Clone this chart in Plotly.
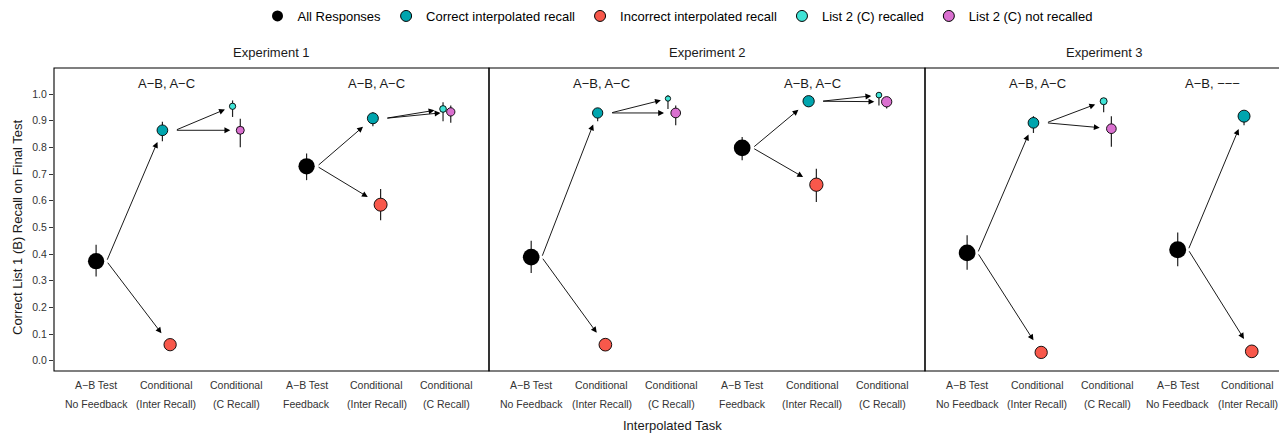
import math
import plotly.graph_objects as go

# ---------------- data ----------------
experiments = ["Experiment 1", "Experiment 2", "Experiment 3"]

series_names = ["All Responses", "Correct interpolated recall", "Incorrect interpolated recall",
                "List 2 (C) recalled", "List 2 (C) not recalled"]
series_colors = ["#000000", "#00A5AE", "#F8584B", "#3FE3D6", "#DA70D0"]

exp1_ticks = [["A−B Test", "No Feedback"], ["Conditional", "(Inter Recall)"], ["Conditional", "(C Recall)"],
              ["A−B Test", "Feedback"], ["Conditional", "(Inter Recall)"], ["Conditional", "(C Recall)"]]
exp2_ticks = [["A−B Test", "No Feedback"], ["Conditional", "(Inter Recall)"], ["Conditional", "(C Recall)"],
              ["A−B Test", "Feedback"], ["Conditional", "(Inter Recall)"], ["Conditional", "(C Recall)"]]
exp3_ticks = [["A−B Test", "No Feedback"], ["Conditional", "(Inter Recall)"], ["Conditional", "(C Recall)"],
              ["A−B Test", "No Feedback"], ["Conditional", "(Inter Recall)"]]

exp1_groups = [("A−B, A−C", [0, 1, 2]), ("A−B, A−C", [3, 4, 5])]
exp2_groups = [("A−B, A−C", [0, 1, 2]), ("A−B, A−C", [3, 4, 5])]
exp3_groups = [("A−B, A−C", [0, 1, 2]), ("A−B, −−−", [3, 4])]

# points: category index, series index, mean, lower, upper
exp1_category = [0, 1, 1, 2, 2, 3, 4, 4, 5, 5]
exp1_series = [0, 1, 2, 3, 4, 0, 1, 2, 3, 4]
exp1_mean = [0.373, 0.864, 0.060, 0.954, 0.864, 0.729, 0.909, 0.585, 0.944, 0.933]
exp1_lower = [0.316, 0.823, 0.040, 0.914, 0.800, 0.677, 0.879, 0.527, 0.898, 0.892]
exp1_upper = [0.435, 0.896, 0.080, 0.976, 0.907, 0.777, 0.932, 0.644, 0.969, 0.957]

exp2_category = [0, 1, 1, 2, 2, 3, 4, 4, 5, 5]
exp2_series = [0, 1, 2, 3, 4, 0, 1, 2, 3, 4]
exp2_mean = [0.388, 0.929, 0.060, 0.983, 0.929, 0.798, 0.973, 0.660, 0.996, 0.971]
exp2_lower = [0.329, 0.898, 0.040, 0.944, 0.883, 0.752, 0.955, 0.595, 0.957, 0.946]
exp2_upper = [0.450, 0.948, 0.080, 0.995, 0.957, 0.839, 0.988, 0.720, 1.000, 0.989]

exp3_category = [0, 1, 1, 2, 2, 3, 4, 4]
exp3_series = [0, 1, 2, 3, 4, 0, 1, 2]
exp3_mean = [0.404, 0.892, 0.031, 0.973, 0.870, 0.416, 0.917, 0.035]
exp3_lower = [0.341, 0.854, 0.015, 0.932, 0.802, 0.354, 0.883, 0.015]
exp3_upper = [0.470, 0.917, 0.050, 0.985, 0.917, 0.481, 0.937, 0.055]

# ---------------- style ----------------
exp1_marker_px = [16.3, 10.7, 12.3, 6.3, 8.0, 16.3, 11.0, 13.0, 6.7, 8.3]
exp2_marker_px = [16.7, 10.3, 12.7, 5.3, 9.7, 16.7, 11.3, 13.3, 5.7, 10.3]
exp3_marker_px = [16.7, 10.7, 12.3, 7.0, 9.7, 17.0, 12.0, 12.7]

FONT = "Arial, Liberation Sans, Helvetica, sans-serif"
TICK_COLOR = "#333333"
PAGE_OFF = 8                       # default body margin of the html page
W, H = 1287 - PAGE_OFF, 435 - PAGE_OFF
# target pixel positions in the window
L_PX, R_PX, T_PX, B_PX = 54, 1283, 68, 371
panel_edges_px = [54, 489, 925, 1283]
x_ranges = [[-0.6, 5.6], [-0.6, 5.6], [-0.6, 4.5]]
y_range = [-0.0387, 1.0976]
dodge = {0: 0.0, 1: -0.055, 2: 0.055, 3: -0.055, 4: 0.055}
start_off = {0: 0.15, 1: 0.185}

plot_w = R_PX - L_PX
domains = [[(panel_edges_px[i] - L_PX) / plot_w, (panel_edges_px[i + 1] - L_PX) / plot_w] for i in range(3)]
px_per_y = (B_PX - T_PX) / (y_range[1] - y_range[0])

exps = [
    (exp1_category, exp1_series, exp1_mean, exp1_lower, exp1_upper, exp1_marker_px, exp1_ticks, exp1_groups),
    (exp2_category, exp2_series, exp2_mean, exp2_lower, exp2_upper, exp2_marker_px, exp2_ticks, exp2_groups),
    (exp3_category, exp3_series, exp3_mean, exp3_lower, exp3_upper, exp3_marker_px, exp3_ticks, exp3_groups),
]

fig = go.Figure()

# legend-only traces
for s, (name, col) in enumerate(zip(series_names, series_colors)):
    fig.add_trace(go.Scatter(
        x=[None], y=[None], mode="markers", name=name,
        marker=dict(size=11, color=col, line=dict(color="black", width=0 if s == 0 else 1)),
        showlegend=True, xaxis="x", yaxis="y"))

annotations = []
shapes = []

for e, (cat, ser, mean, lo, hi, sizes, ticks, groups) in enumerate(exps):
    xa = "x" if e == 0 else f"x{e + 1}"
    xa_dom = xa + " domain"
    px_per_x = (panel_edges_px[e + 1] - panel_edges_px[e]) / (x_ranges[e][1] - x_ranges[e][0])
    xs = [c + dodge[s] for c, s in zip(cat, ser)]

    # arrows
    for i, (c, s) in enumerate(zip(cat, ser)):
        parent_series = 0 if s in (1, 2) else (1 if s in (3, 4) else None)
        if parent_series is None:
            continue
        j = [k for k in range(len(cat)) if cat[k] == c - 1 and ser[k] == parent_series][0]
        sx, sy = xs[j] + start_off[parent_series], mean[j]
        tx, ty = xs[i], mean[i]
        dxp, dyp = (tx - sx) * px_per_x, (ty - sy) * px_per_y
        Lp = math.hypot(dxp, dyp)
        d = sizes[i] + 2
        ex = tx - d / Lp * dxp / px_per_x
        ey = ty - d / Lp * dyp / px_per_y
        annotations.append(dict(
            x=ex, y=ey, ax=sx, ay=sy, xref=xa, yref="y", axref=xa, ayref="y",
            text="", showarrow=True, arrowhead=2, arrowsize=1.3, arrowwidth=0.9,
            arrowcolor="black", standoff=0, startstandoff=0))

    # points per series
    for s in range(5):
        idx = [k for k in range(len(ser)) if ser[k] == s]
        if not idx:
            continue
        fig.add_trace(go.Scatter(
            x=[xs[k] for k in idx], y=[mean[k] for k in idx], mode="markers",
            xaxis=xa, yaxis="y", showlegend=False, name=series_names[s],
            marker=dict(size=[sizes[k] for k in idx], color=series_colors[s], opacity=1,
                        line=dict(color="black", width=0 if s == 0 else 0.9)),
            error_y=dict(type="data", symmetric=False,
                         array=[hi[k] - mean[k] for k in idx],
                         arrayminus=[mean[k] - lo[k] for k in idx],
                         width=0, thickness=1.2, color="#222222"),
            hoverinfo="skip"))

    # panel border
    shapes.append(dict(type="rect", xref=xa_dom, yref="y domain", x0=0, x1=1, y0=0, y1=1,
                       line=dict(color="black", width=1.1), layer="above"))

    # strip title
    annotations.append(dict(x=0.5, y=1, xref=xa_dom, yref="paper", yshift=16, text=experiments[e],
                            showarrow=False, yanchor="middle",
                            font=dict(family=FONT, size=13, color="#1A1A1A")))
    # group labels
    for label, members in groups:
        annotations.append(dict(x=sum(members) / len(members), y=1, xref=xa, yref="paper", yshift=-15,
                                text=label, showarrow=False, yanchor="middle",
                                font=dict(family=FONT, size=13, color="#1A1A1A")))
    # x tick labels (two lines)
    for i, (l1, l2) in enumerate(ticks):
        for txt, ys in ((l1, -14), (l2, -33)):
            annotations.append(dict(x=i, y=0, xref=xa, yref="paper", yshift=ys, text=txt,
                                    showarrow=False, yanchor="middle",
                                    font=dict(family=FONT, size=10.5, color=TICK_COLOR)))

    axis_cfg = dict(domain=domains[e], range=x_ranges[e], showgrid=False, zeroline=False,
                    showticklabels=False, ticks="", showline=False, anchor="y", fixedrange=True)
    if e == 0:
        fig.update_layout(xaxis=axis_cfg)
    else:
        fig.update_layout(**{f"xaxis{e + 1}": axis_cfg})

# axis titles
annotations.append(dict(x=0, xref="paper", xshift=-(L_PX - 18), y=(B_PX - 228) / (B_PX - T_PX), yref="paper",
                        text="Correct List 1 (B) Recall on Final Test", textangle=-90, showarrow=False,
                        xanchor="center", yanchor="middle", font=dict(family=FONT, size=13, color="#1A1A1A")))
annotations.append(dict(x=(672.5 - L_PX) / plot_w, xref="paper", y=0, yref="paper", yshift=-(425 - B_PX),
                        text="Interpolated Task", showarrow=False, yanchor="middle",
                        font=dict(family=FONT, size=13, color="#1A1A1A")))

fig.update_layout(
    width=W, height=H,
    margin=dict(l=L_PX - PAGE_OFF, r=W - (R_PX - PAGE_OFF), t=T_PX - PAGE_OFF, b=H - (B_PX - PAGE_OFF), pad=0),
    paper_bgcolor="white", plot_bgcolor="white",
    font=dict(family=FONT, size=13, color="black"),
    yaxis=dict(range=y_range, tickvals=[i / 10 for i in range(11)], tickformat=".1f",
               showgrid=False, zeroline=False, showline=False, ticks="outside", ticklen=4,
               tickwidth=1, tickcolor="#333333", tickfont=dict(family=FONT, size=10.5, color=TICK_COLOR),
               fixedrange=True),
    legend=dict(orientation="h", xref="container", yref="container",
                x=(677.5 - PAGE_OFF) / W, xanchor="center",
                y=1 - (16 - PAGE_OFF) / H, yanchor="middle", font=dict(family=FONT, size=13, color="black"),
                itemwidth=30, tracegroupgap=0, bgcolor="rgba(0,0,0,0)"),
    annotations=annotations, shapes=shapes,
    showlegend=True,
)

fig.write_html("out.html")
